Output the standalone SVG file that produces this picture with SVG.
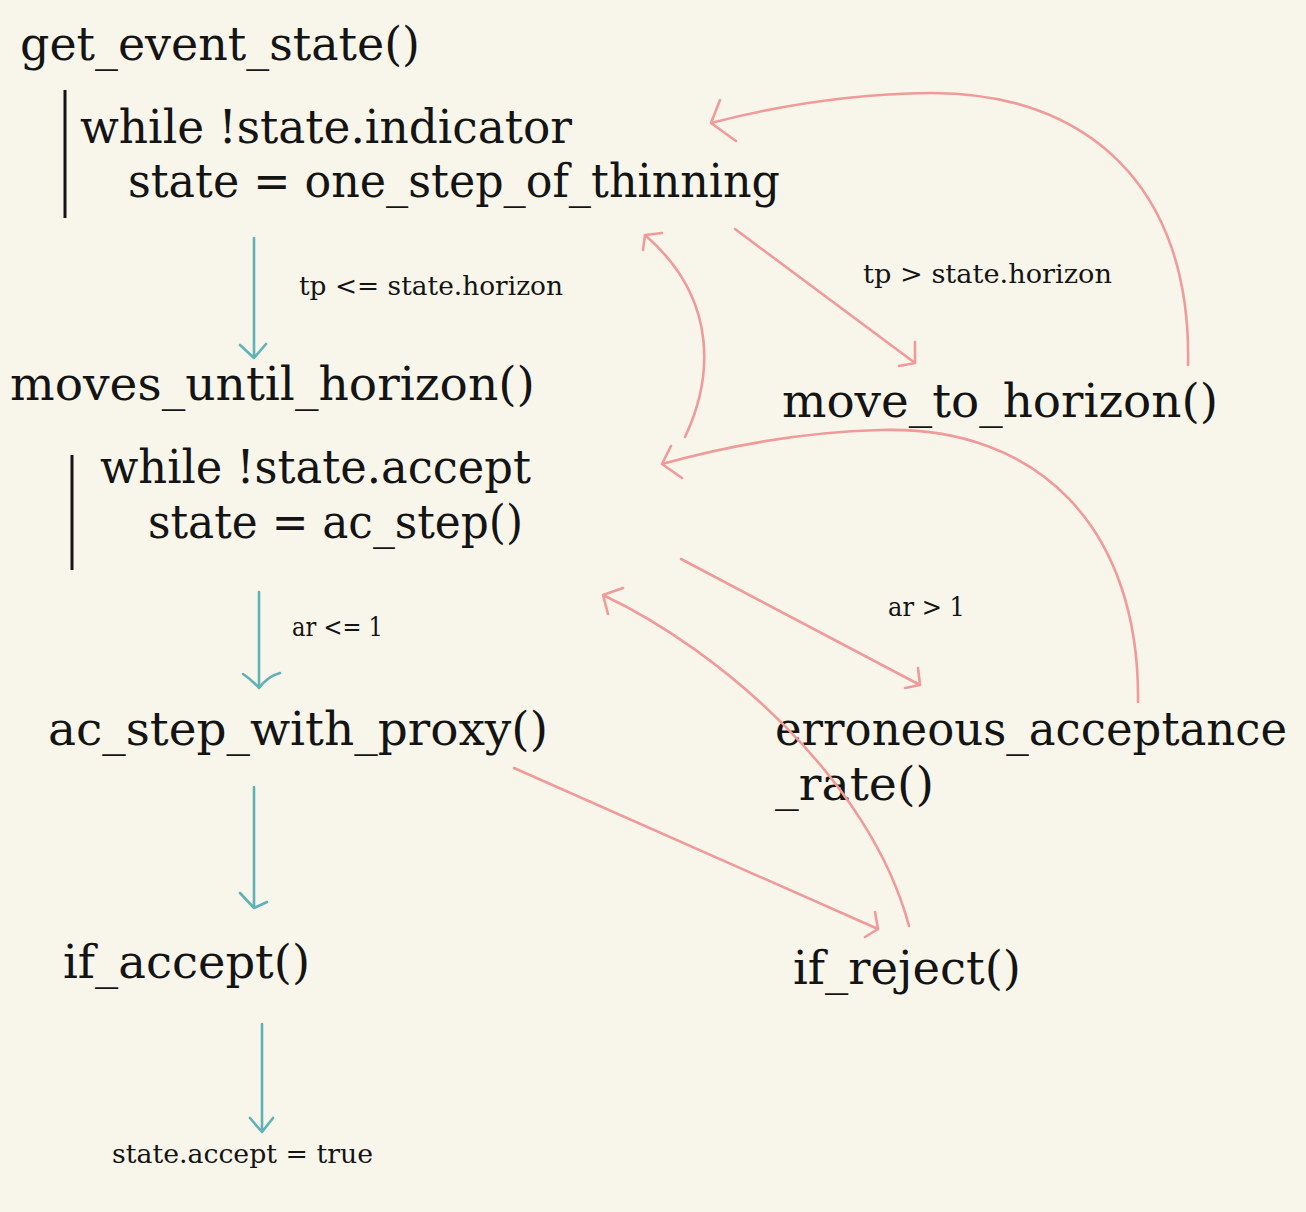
<svg xmlns="http://www.w3.org/2000/svg" width="1306" height="1212" viewBox="0 0 1306 1212">
<style>
.big{font-family:"DejaVu Serif","Liberation Serif",serif;font-size:46px;fill:#141414}
.small{font-family:"DejaVu Serif","Liberation Serif",serif;font-size:26px;fill:#141414}
.red{fill:none;stroke:#f09a9a;stroke-width:2.6;stroke-linecap:round;stroke-linejoin:round}
.teal{fill:none;stroke:#5fb2b6;stroke-width:2.6;stroke-linecap:round;stroke-linejoin:round}
.bar{stroke:#141414;stroke-width:3}
</style>
<rect width="1306" height="1212" fill="#f8f6eb"/>
<g id="get_event_state">
<text class="big" x="20" y="60" textLength="400" lengthAdjust="spacingAndGlyphs">get_event_state()</text>
<line class="bar" x1="65" y1="90" x2="65" y2="218"/>
<text class="big" x="80" y="143" textLength="492" lengthAdjust="spacingAndGlyphs">while !state.indicator</text>
<text class="big" x="128" y="197" textLength="652" lengthAdjust="spacingAndGlyphs">state = one_step_of_thinning</text>
</g>
<g id="moves_until_horizon">
<text class="big" x="10" y="400" textLength="525" lengthAdjust="spacingAndGlyphs">moves_until_horizon()</text>
<line class="bar" x1="72" y1="455" x2="72" y2="570"/>
<text class="big" x="100" y="483" textLength="431" lengthAdjust="spacingAndGlyphs">while !state.accept</text>
<text class="big" x="148" y="538" textLength="375" lengthAdjust="spacingAndGlyphs">state = ac_step()</text>
</g>
<g id="move_to_horizon">
<text class="big" x="782" y="417" textLength="436" lengthAdjust="spacingAndGlyphs">move_to_horizon()</text>
</g>
<g id="ac_step_with_proxy">
<text class="big" x="48" y="745" textLength="500" lengthAdjust="spacingAndGlyphs">ac_step_with_proxy()</text>
</g>
<g id="erroneous_acceptance_rate">
<text class="big" x="775" y="745" textLength="512" lengthAdjust="spacingAndGlyphs">erroneous_acceptance</text>
<text class="big" x="775" y="800" textLength="159" lengthAdjust="spacingAndGlyphs">_rate()</text>
</g>
<g id="if_accept">
<text class="big" x="63" y="978" textLength="247" lengthAdjust="spacingAndGlyphs">if_accept()</text>
</g>
<g id="if_reject">
<text class="big" x="793" y="984" textLength="228" lengthAdjust="spacingAndGlyphs">if_reject()</text>
</g>
<g id="accept_true">
<text class="small" x="112" y="1163" textLength="261" lengthAdjust="spacingAndGlyphs">state.accept = true</text>
</g>
<g id="connectors">
<path class="teal" d="M254,238 L254,358 M240,345 L254,358 L266,344"/>
<text class="small" x="299" y="295" textLength="264" lengthAdjust="spacingAndGlyphs">tp &lt;= state.horizon</text>
<path class="teal" d="M259,592 L259,688 M243,674 Q252,680 259,688 Q268,676 280,673"/>
<text class="small" x="292" y="636" textLength="91" lengthAdjust="spacingAndGlyphs">ar &lt;= 1</text>
<path class="teal" d="M254,787 L254,908 M240,893 L254,908 L267,902"/>
<path class="teal" d="M262,1024 L262,1132 M250,1118 L262,1132 L273,1118"/>
<path class="red" d="M1188,365 C1192,185 1085,92 930,93 C850,94 780,105 711,123 M720,100 L711,123 L736,141"/>
<path class="red" d="M735,229 L915,363 M915,342 L915,363 L899,366"/>
<text class="small" x="863" y="283" textLength="249" lengthAdjust="spacingAndGlyphs">tp &gt; state.horizon</text>
<path class="red" d="M685,437 C712,380 720,300 645,235 M643,250 L645,235 L662,233"/>
<path class="red" d="M1138,702 C1140,530 1040,425 880,430 C800,432 720,448 662,464 M671,446 L662,464 L682,478"/>
<path class="red" d="M681,559 L920,685 M918,668 L920,685 L905,688"/>
<text class="small" x="888" y="616" textLength="77" lengthAdjust="spacingAndGlyphs">ar &gt; 1</text>
<path class="red" d="M909,926 C870,780 720,650 603,595 M623,588 L603,595 L608,614"/>
<path class="red" d="M514,768 L878,929 M875,912 L878,929 L865,937"/>
</g>
</svg>
